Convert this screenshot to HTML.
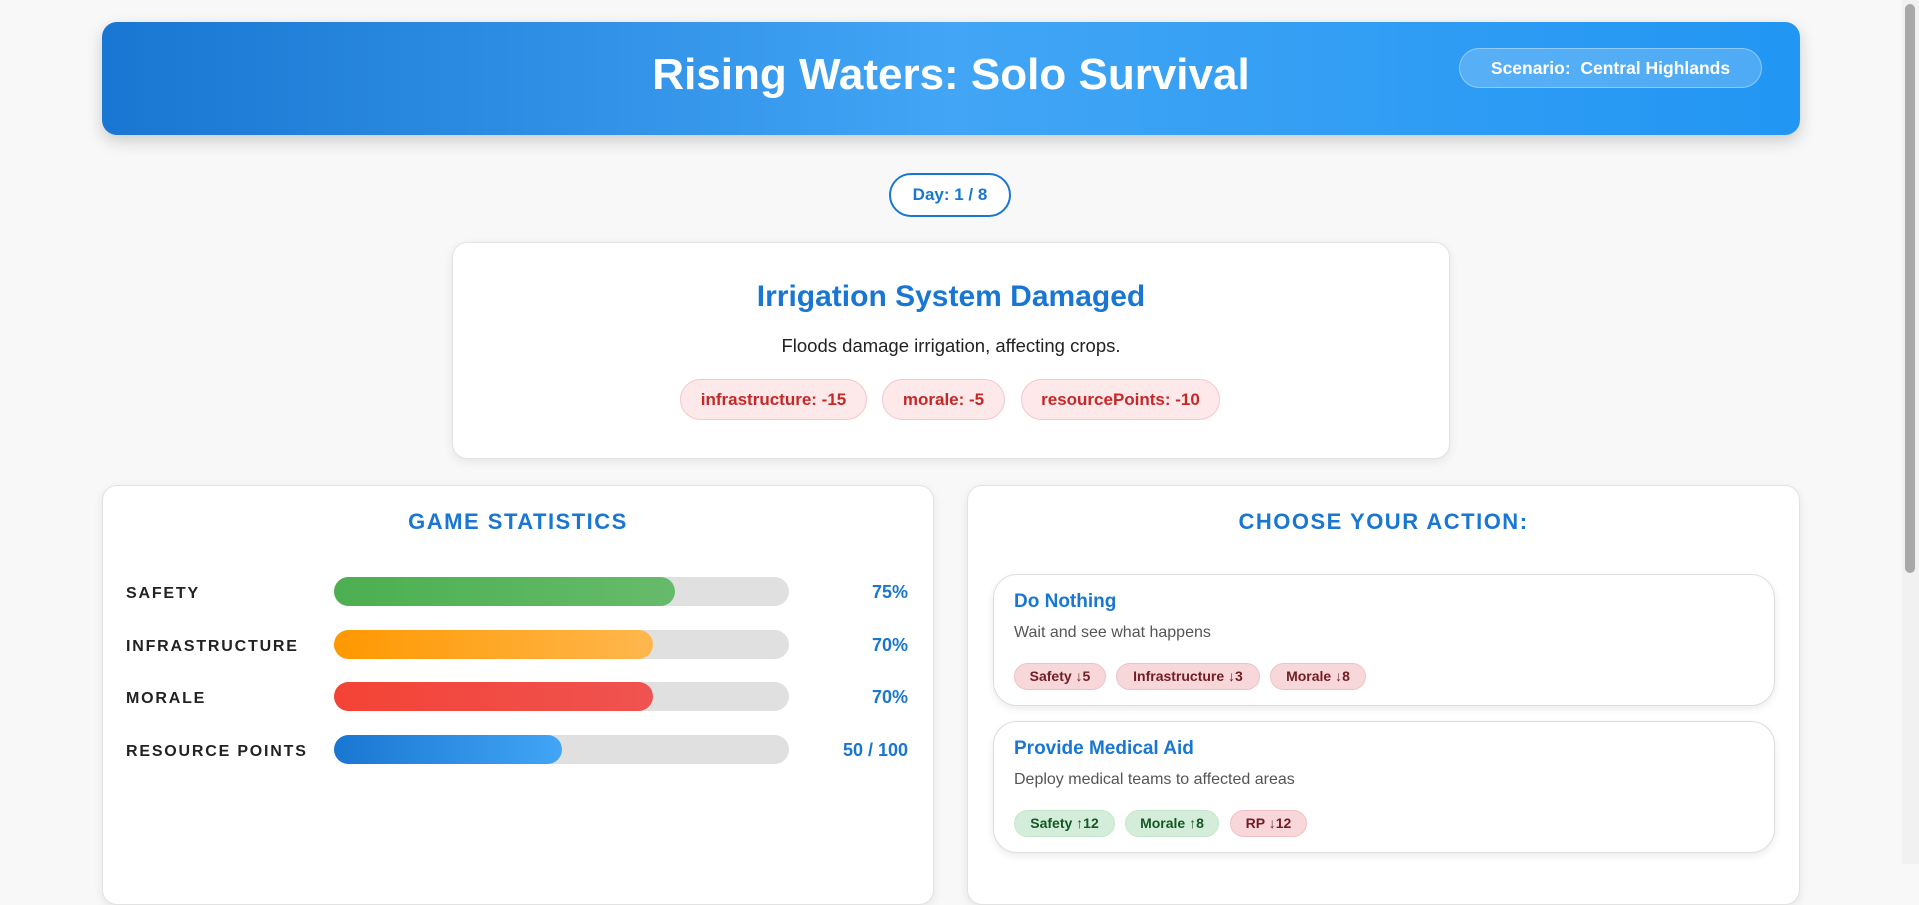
<!DOCTYPE html>
<html><head><meta charset="utf-8">
<style>
*{box-sizing:border-box;margin:0;padding:0}
body{width:1919px;height:864px;overflow:hidden;background:#f8f8f8;font-family:"Liberation Sans",Arial,sans-serif;position:relative}
.abs{position:absolute}
.header{left:102px;top:22px;width:1698px;height:113px;border-radius:15px;background:linear-gradient(90deg,#1976d2,#42a5f5 50%,#2196f3);box-shadow:0 6px 16px rgba(0,0,0,.18)}
.header h1{position:absolute;left:0;right:0;top:28px;text-align:center;color:#fff;font-size:44px;font-weight:bold}
.scen{left:1357px;top:26px;width:303px;height:40px;border-radius:20px;background:rgba(255,255,255,.2);border:1px solid rgba(255,255,255,.35);color:#fff;font-weight:bold;font-size:17.5px;line-height:38px;text-align:center;white-space:pre}
.day{left:889px;top:173px;width:122px;height:44px;border:2px solid #1976d2;border-radius:22px;background:#fff;color:#1976d2;font-weight:bold;font-size:17px;line-height:40px;text-align:center}
.card{background:#fff;border:1px solid #e2e2e2;border-radius:15px;box-shadow:0 3px 10px rgba(0,0,0,.08)}
.ev{left:452px;top:242px;width:998px;height:217px}
.ev h2{position:absolute;left:0;right:0;top:37px;text-align:center;color:#1976d2;font-size:30px;font-weight:bold}
.etag{top:379px;height:41px;border-radius:21px;background:#fde8ea;border:1px solid #f8c5ca;color:#c62828;font-weight:bold;font-size:17px;line-height:39px;text-align:center}
.sec-title{position:absolute;left:0;right:0;top:509px;text-align:center;color:#1976d2;font-size:22px;font-weight:bold;letter-spacing:1.5px}
.lbl{left:126px;font-size:16px;font-weight:bold;letter-spacing:1.8px;color:#222;line-height:20px}
.track{left:334px;width:455px;height:29px;border-radius:15px;background:#e0e0e0}
.fill{position:absolute;left:0;top:0;height:29px;border-radius:15px}
.val{right:1011px;font-size:18px;font-weight:bold;color:#1976d2;line-height:20px;text-align:right}
.act{left:993px;width:782px;height:132px;background:#fff;border:1px solid #ddd;border-radius:24px;box-shadow:0 3px 8px rgba(0,0,0,.08)}
.act h3{position:absolute;left:20px;top:16px;color:#1976d2;font-size:19px;font-weight:bold}
.act p{position:absolute;left:20px;top:49px;color:#555;font-size:16px}
.tag{position:absolute;top:88px;height:27px;border-radius:14px;font-size:14px;font-weight:bold;line-height:25px;text-align:center}
.neg{background:#f8d7da;border:1px solid #f1c0c5;color:#721c24}
.pos{background:#d4edda;border:1px solid #c3e6cb;color:#155724}
.sb{left:1902px;top:0;width:17px;height:864px;background:#f1f1f1}
.thumb{left:1905px;top:4px;width:10px;height:569px;border-radius:5px;background:#a8a8a8}
</style></head><body>
<div class="abs header">
<h1>Rising Waters: Solo Survival</h1>
<div class="abs scen">Scenario:  Central Highlands</div>
</div>
<div class="abs day">Day: 1 / 8</div>
<div class="abs card ev">
<h2>Irrigation System Damaged</h2>
<p style="position:absolute;left:0;right:0;top:92px;text-align:center;font-size:18.5px;color:#222">Floods damage irrigation, affecting crops.</p>
</div>
<div class="abs etag" style="left:680px;width:187px">infrastructure: -15</div>
<div class="abs etag" style="left:882px;width:123px">morale: -5</div>
<div class="abs etag" style="left:1021px;width:199px">resourcePoints: -10</div>

<div class="abs card" style="left:102px;top:485px;width:832px;height:420px"></div>
<div class="abs" style="left:102px;width:832px;top:0" ><div class="sec-title">GAME STATISTICS</div></div>
<div id="stats"></div>

<div class="abs card" style="left:967px;top:485px;width:833px;height:420px"></div>
<div class="abs" style="left:967px;width:833px;top:0"><div class="sec-title">CHOOSE YOUR ACTION:</div></div>

<div class="abs act" style="top:574px">
<h3>Do Nothing</h3>
<p>Wait and see what happens</p>
<div class="tag neg" style="left:20px;width:92px">Safety ↓5</div>
<div class="tag neg" style="left:122px;width:144px">Infrastructure ↓3</div>
<div class="tag neg" style="left:276px;width:96px">Morale ↓8</div>
</div>
<div class="abs act" style="top:721px">
<h3>Provide Medical Aid</h3>
<p>Deploy medical teams to affected areas</p>
<div class="tag pos" style="left:20px;width:101px">Safety ↑12</div>
<div class="tag pos" style="left:131px;width:94px">Morale ↑8</div>
<div class="tag neg" style="left:236px;width:77px">RP ↓12</div>
</div>

<div class="abs sb"></div>
<div class="abs thumb"></div>

<script>
const statNames = ["SAFETY","INFRASTRUCTURE","MORALE","RESOURCE POINTS"];
const statValues = [75,70,70,50];
const statMax = [100,100,100,100];
const statLabels = ["75%","70%","70%","50 / 100"];
const grads = ["linear-gradient(90deg,#4caf50,#66bb6a)","linear-gradient(90deg,#ff9800,#ffb74d)","linear-gradient(90deg,#f44336,#ef5350)","linear-gradient(90deg,#1976d2,#42a5f5)"];
const root = document.getElementById('stats');
const trackW = 455;
function rowY(i){return 577 + i*52.6;}
function xScale(v,m){return v/m*trackW;}
statNames.forEach((n,i)=>{
  const y=rowY(i);
  const l=document.createElement('div');l.className='abs lbl';l.style.top=(y+7)+'px';l.textContent=n;
  
  
  root.appendChild(l);
  const t=document.createElement('div');t.className='abs track';t.style.top=y+'px';
  
  
  const f=document.createElement('div');f.className='fill';f.style.width=xScale(statValues[i],statMax[i])+'px';f.style.background=grads[i];
  
  
  t.appendChild(f);root.appendChild(t);
  const v=document.createElement('div');v.className='abs val';v.style.top=(y+5)+'px';v.textContent=statLabels[i];
  
  
  root.appendChild(v);
});
</script>
</body></html>
